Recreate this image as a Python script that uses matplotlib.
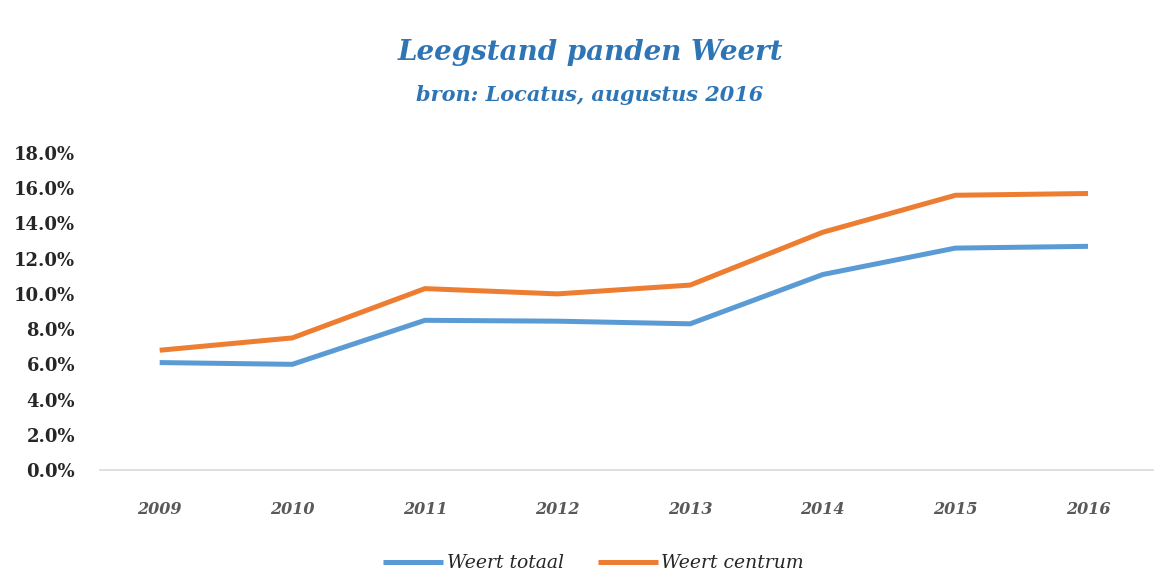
import numpy as np
import matplotlib.pyplot as plt

years = ['2009', '2010', '2011', '2012', '2013', '2014', '2015', '2016']
weert_totaal = [6.1, 6.0, 8.5, 8.45, 8.3, 11.1, 12.6, 12.7]
weert_centrum = [6.8, 7.5, 10.3, 10.0, 10.5, 13.5, 15.6, 15.7]
y_ticks = [0, 2, 4, 6, 8, 10, 12, 14, 16, 18]

blue = '#5B9BD5'
orange = '#ED7D31'
title_blue = '#2E75B6'
serif = 'DejaVu Serif'

fig = plt.figure(figsize=(11.57, 5.85), dpi=100)
ax = fig.add_axes([100 / 1157, 1 - 470 / 585, 1053 / 1157, 317 / 585])

x = np.arange(len(years))
ax.plot(x, weert_totaal, color=blue, lw=3.6, label='Weert totaal', solid_capstyle='butt')
ax.plot(x, weert_centrum, color=orange, lw=3.6, label='Weert centrum', solid_capstyle='butt')

ax.set_xlim(-0.45, 7.49)
ax.set_ylim(0, 18)
ax.set_xticks(x)
ax.set_xticklabels(years, family=serif, style='italic', weight='bold', fontsize=11.5, color='#595959')
ax.set_yticks(y_ticks)
ax.set_yticklabels(['%.1f%%' % v for v in y_ticks], family=serif, weight='bold', fontsize=13, color='#262626')
ax.tick_params(axis='both', length=0)
ax.tick_params(axis='x', pad=22)
ax.tick_params(axis='y', pad=18)

for s in ['top', 'right', 'left']:
    ax.spines[s].set_visible(False)
ax.spines['bottom'].set_color('#D9D9D9')
ax.spines['bottom'].set_linewidth(1.2)

fig.text(0.51, 0.91, 'Leegstand panden Weert', ha='center', va='center', family=serif,
         style='italic', weight='bold', fontsize=20, color=title_blue)
fig.text(0.51, 0.838, 'bron: Locatus, augustus 2016', ha='center', va='center', family=serif,
         style='italic', weight='bold', fontsize=15, color=title_blue)

leg = fig.legend(loc='center', bbox_to_anchor=(0.513, 0.037), ncol=2, frameon=False,
                 prop={'family': serif, 'style': 'italic', 'size': 13.5},
                 handlelength=3.2, handletextpad=0.2, columnspacing=1.8)
for t in leg.get_texts():
    t.set_color('#262626')

fig.savefig('out.png', dpi=100, facecolor='white')
